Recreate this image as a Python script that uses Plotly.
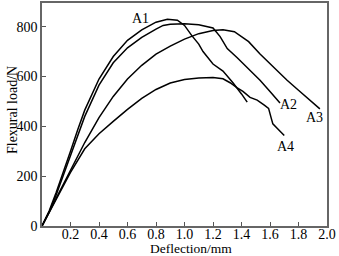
import plotly.graph_objects as go

# Data
a1_x = [0, 0.05, 0.1, 0.15, 0.2, 0.25, 0.3, 0.4, 0.5, 0.6, 0.7, 0.8, 0.88, 0.95, 1.0, 1.05, 1.1, 1.13, 1.2, 1.27, 1.34, 1.4, 1.44]
a1_y = [0, 60, 135, 215, 300, 385, 465, 590, 680, 745, 787, 818, 830, 826, 805, 765, 730, 700, 650, 622, 575, 530, 497]

a2_x = [0, 0.05, 0.1, 0.15, 0.2, 0.25, 0.3, 0.4, 0.5, 0.6, 0.7, 0.8, 0.85, 0.9, 1.0, 1.1, 1.2, 1.25, 1.3, 1.37, 1.45, 1.53, 1.6, 1.67]
a2_y = [0, 55, 125, 205, 285, 365, 440, 565, 655, 715, 757, 790, 805, 810, 812, 808, 795, 760, 712, 675, 630, 585, 540, 494]

a3_x = [0, 0.1, 0.2, 0.3, 0.4, 0.5, 0.6, 0.7, 0.8, 0.9, 1.0, 1.1, 1.2, 1.27, 1.35, 1.45, 1.53, 1.6, 1.72, 1.8, 1.9, 1.95]
a3_y = [0, 110, 225, 335, 435, 520, 590, 645, 690, 722, 750, 772, 785, 788, 780, 740, 690, 650, 585, 545, 495, 470]

a4_x = [0, 0.1, 0.2, 0.3, 0.4, 0.5, 0.6, 0.7, 0.8, 0.9, 1.0, 1.1, 1.2, 1.27, 1.32, 1.37, 1.41, 1.46, 1.51, 1.56, 1.59, 1.61, 1.62, 1.65, 1.7]
a4_y = [0, 105, 215, 310, 370, 420, 468, 512, 548, 574, 588, 594, 596, 591, 575, 554, 540, 516, 505, 485, 472, 430, 410, 392, 363]

labels = ["A1", "A2", "A3", "A4"]
label_x = [0.69, 1.73, 1.915, 1.71]
label_y = [833, 486, 434, 319]

x_ticks = [0.2, 0.4, 0.6, 0.8, 1.0, 1.2, 1.4, 1.6, 1.8, 2.0]
y_ticks = [0, 200, 400, 600, 800]

FONT = "Liberation Serif, Times New Roman, serif"

fig = go.Figure()
for xs, ys in [(a1_x, a1_y), (a2_x, a2_y), (a3_x, a3_y), (a4_x, a4_y)]:
    fig.add_trace(go.Scatter(x=xs, y=ys, mode="lines",
                             line=dict(color="black", width=1.5), showlegend=False))

for t, lx, ly in zip(labels, label_x, label_y):
    fig.add_annotation(x=lx, y=ly, text=t, showarrow=False,
                       xanchor="center", yanchor="middle",
                       font=dict(family=FONT, size=14, color="black"))

fig.add_annotation(xref="paper", yref="paper", x=0.523, y=0, yshift=-22.5,
                   xanchor="center", yanchor="middle",
                   text="Deflection/mm", showarrow=False,
                   font=dict(family=FONT, size=13.5, color="black"))
fig.add_annotation(xref="paper", yref="paper", x=0, xshift=-30, y=0.52,
                   xanchor="center", yanchor="middle",
                   text="Flexural load/N", textangle=-90, showarrow=False,
                   font=dict(family=FONT, size=14, color="black"))

fig.update_xaxes(range=[0, 2.0], tickvals=x_ticks,
                 ticktext=[f"{v:.1f}" for v in x_ticks],
                 ticks="inside", ticklen=4, tickcolor="#555",
                 ticklabelstandoff=-6,
                 showline=True, linecolor="#666", linewidth=1.5, mirror=True,
                 showgrid=False, zeroline=False,
                 tickfont=dict(family=FONT, size=14, color="black"))
fig.update_yaxes(range=[0, 895], tickvals=y_ticks,
                 ticks="inside", ticklen=4, tickcolor="#555",
                 showline=True, linecolor="#666", linewidth=1.5, mirror=True,
                 showgrid=False, zeroline=False,
                 tickfont=dict(family=FONT, size=14, color="black"))

fig.update_layout(width=339, height=256,
                  margin=dict(l=42, r=12, t=1, b=30),
                  plot_bgcolor="white", paper_bgcolor="white")

fig.write_html("out.html")
